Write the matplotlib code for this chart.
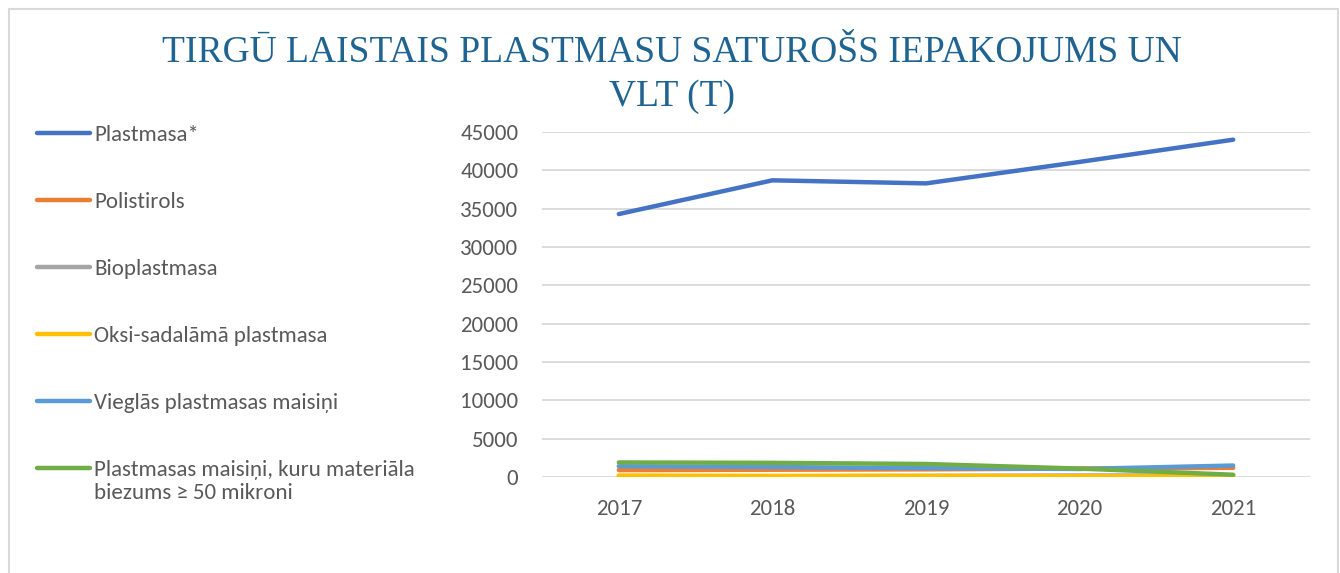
import numpy as np
import matplotlib
matplotlib.use("Agg")
import matplotlib.pyplot as plt
from matplotlib.patches import Rectangle
from matplotlib.lines import Line2D

years = ["2017", "2018", "2019", "2020", "2021"]
plastmasa = [34300, 38700, 38300, 41100, 44000]
polistirols = [900, 950, 1000, 1100, 1200]
bioplastmasa = [100, 100, 150, 200, 200]
oksi = [200, 150, 150, 100, 50]
viegl_maisini = [1400, 1300, 1150, 1050, 1500]
biezi_maisini = [1900, 1850, 1700, 1100, 300]

series = [
    ("Plastmasa*", plastmasa, "#4472C4"),
    ("Polistirols", polistirols, "#ED7D31"),
    ("Bioplastmasa", bioplastmasa, "#A5A5A5"),
    ("Oksi-sadalāmā plastmasa", oksi, "#FFC000"),
    ("Vieglās plastmasas maisiņi", viegl_maisini, "#5B9BD5"),
    ("Plastmasas maisiņi, kuru materiāla\nbiezums ≥ 50 mikroni", biezi_maisini, "#70AD47"),
]

plt.rcParams["font.family"] = ["Carlito", "Open Sans", "DejaVu Sans"]

W, H = 1340, 573
fig = plt.figure(figsize=(W / 100, H / 100), dpi=100)
ax = fig.add_axes([0.4045, 0.1675, 0.5731, 0.6021])

x = np.arange(len(years))
for name, vals, col in series:
    ax.plot(x, vals, color=col, lw=3.2, solid_capstyle="round")

ax.set_xlim(-0.5, len(years) - 0.5)
ax.set_ylim(0, 45000)
ax.set_yticks(np.arange(0, 45001, 5000))
ax.set_xticks(x)
ax.set_xticklabels(years)
ax.grid(axis="y", color="#D9D9D9", lw=1.3)
ax.set_axisbelow(True)
for s in ax.spines.values():
    s.set_visible(False)
ax.tick_params(length=0, labelsize=16.5, colors="#595959")
ax.tick_params(axis="y", pad=17)
ax.tick_params(axis="x", pad=16)

fig.text(0.5015, 1 - 75 / H, "TIRGŪ LAISTAIS PLASTMASU SATUROŠS IEPAKOJUMS UN\nVLT (T)",
         family="Liberation Serif", fontsize=27, color="#1F6391",
         ha="center", va="center", linespacing=1.35)

# legend drawn by hand so the wrapped entry keeps its line on the first row
for i, (name, vals, col) in enumerate(series):
    yc = 1 - (133 + 67 * i) / H
    fig.add_artist(Line2D([37 / W, 90 / W], [yc, yc], color=col, lw=3.2,
                          solid_capstyle="round", transform=fig.transFigure))
    fig.text(94 / W, yc + 8 / H, name, fontsize=16.5, color="#595959",
             ha="left", va="top", linespacing=1.2)

fig.patches.append(Rectangle((9 / W, -0.05), 1329 / W, 1.05 - 9 / H,
                             transform=fig.transFigure, fill=False,
                             edgecolor="#D9D9D9", lw=1.5))

fig.savefig("out.png", dpi=100)
